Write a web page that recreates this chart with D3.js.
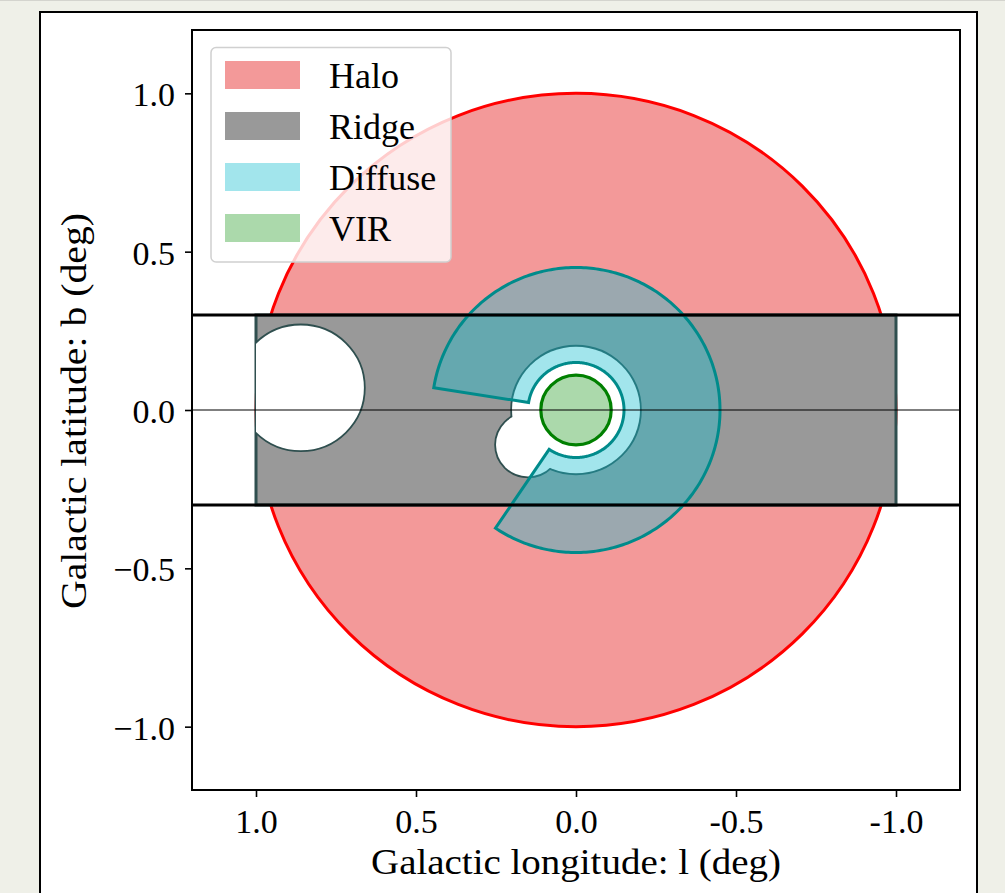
<!DOCTYPE html>
<html>
<head>
<meta charset="utf-8">
<script src="https://cdn.jsdelivr.net/npm/d3@7"></script>
<style>
  body { margin: 0; background: #eff0e8; }
  svg { display: block; }
  .tick text { font-family: "Liberation Serif", serif; font-size: 34px; fill: #000; }
</style>
</head>
<body>
<div id="chart"></div>
<script>
// regions on the sky: [l, b, radius] in degrees
var haloCircle = [0, 0, 1.0];
var ridgeBox = [-1.0, 1.0, -0.3, 0.3];          // l min, l max, b min, b max
var ridgeHoleFar = [0.86, 0.07, 0.2];
var ridgeHolesCenter = [[0, 0, 0.2], [0.15, -0.11, 0.1]];
var diffuseRadii = [0.15, 0.45];                // inner, outer
var diffuseAngles = [9, 304];                   // start, end (deg)
var virCircle = [0, 0, 0.11];
var bandLines = [-0.3, 0.3];

var legendNames = ["Halo", "Ridge", "Diffuse", "VIR"];
var xTicks = [1.0, 0.5, 0.0, -0.5, -1.0];
var xTickLabels = ["1.0", "0.5", "0.0", "-0.5", "-1.0"];
var yTicks = [-1.0, -0.5, 0.0, 0.5, 1.0];
var yTickLabels = ["\u22121.0", "\u22120.5", "0.0", "0.5", "1.0"];

var colors = {
  Halo: "rgba(240,128,128,0.8)",
  Ridge: "#999999",
  Diffuse: "rgba(23,190,207,0.4)",
  VIR: "rgba(44,160,44,0.4)"
};

var W = 1005, H = 893;
var margin = { top: 30, right: 45, bottom: 103, left: 192 };
var width = 960 - margin.left, height = 790 - margin.top;

var svg = d3.select("#chart").append("svg")
  .attr("width", W).attr("height", H);

// figure frame
svg.append("line").attr("x1", 0).attr("x2", W).attr("y1", 0.5).attr("y2", 0.5)
  .attr("stroke", "#d4d4ce");
svg.append("rect")
  .attr("x", 40).attr("y", 12).attr("width", 937).attr("height", 900)
  .attr("fill", "#fff").attr("stroke", "#000").attr("stroke-width", 2);

var g = svg.append("g")
  .attr("transform", "translate(" + margin.left + "," + margin.top + ")");

var x = d3.scaleLinear().domain([1.2, -1.2]).range([0, width]);
var y = d3.scaleLinear().domain([-1.2, 1.2]).range([height, 0]);

var line = d3.line().x(function(d) { return x(d[0]); }).y(function(d) { return y(d[1]); });

function ellipse(sel, c) {
  return sel.append("ellipse")
    .attr("cx", x(c[0])).attr("cy", y(c[1]))
    .attr("rx", Math.abs(x(c[2]) - x(0))).attr("ry", Math.abs(y(c[2]) - y(0)));
}

g.append("clipPath").attr("id", "plotclip")
  .append("rect").attr("width", width).attr("height", height);
g.append("clipPath").attr("id", "ridgeclip")
  .append("rect")
  .attr("x", x(ridgeBox[1])).attr("y", y(ridgeBox[3]))
  .attr("width", x(ridgeBox[0]) - x(ridgeBox[1]))
  .attr("height", y(ridgeBox[2]) - y(ridgeBox[3]));

var plot = g.append("g").attr("clip-path", "url(#plotclip)");

// Halo
ellipse(plot, haloCircle)
  .attr("fill", colors.Halo).attr("stroke", "red").attr("stroke-width", 3);

// Ridge
plot.append("rect")
  .attr("x", x(ridgeBox[1])).attr("y", y(ridgeBox[3]))
  .attr("width", x(ridgeBox[0]) - x(ridgeBox[1]))
  .attr("height", y(ridgeBox[2]) - y(ridgeBox[3]))
  .attr("fill", colors.Ridge).attr("stroke", "darkslategray").attr("stroke-width", 3);

ellipse(plot.append("g").attr("clip-path", "url(#ridgeclip)"), ridgeHoleFar)
  .attr("fill", "#fff").attr("stroke", "darkslategray").attr("stroke-width", 1.8);

// central hole: outline of the union, then white fill
ridgeHolesCenter.forEach(function(c) {
  ellipse(plot, c).attr("fill", "none").attr("stroke", "darkslategray").attr("stroke-width", 3.6);
});
ridgeHolesCenter.forEach(function(c) {
  ellipse(plot, c).attr("fill", "#fff");
});

// Diffuse sector
var a0 = diffuseAngles[0], a1 = diffuseAngles[1];
var outer = d3.range(a0, a1 + 0.5, 1).map(function(a) {
  var t = a * Math.PI / 180;
  return [diffuseRadii[1] * Math.cos(t), diffuseRadii[1] * Math.sin(t)];
});
var inner = d3.range(a1, a0 - 0.5, -1).map(function(a) {
  var t = a * Math.PI / 180;
  return [diffuseRadii[0] * Math.cos(t), diffuseRadii[0] * Math.sin(t)];
});
plot.append("path")
  .attr("d", line(outer.concat(inner)) + "Z")
  .attr("fill", colors.Diffuse).attr("stroke", "darkcyan").attr("stroke-width", 3)
  .attr("stroke-linejoin", "miter");

// VIR
ellipse(plot, virCircle)
  .attr("fill", colors.VIR).attr("stroke", "green").attr("stroke-width", 3.2);

// reference lines
plot.append("line")
  .attr("x1", 0).attr("x2", width).attr("y1", y(0)).attr("y2", y(0))
  .attr("stroke", "#000").attr("stroke-width", 1.1);
plot.selectAll(".band").data(bandLines).enter().append("line")
  .attr("x1", 0).attr("x2", width)
  .attr("y1", function(d) { return y(d); }).attr("y2", function(d) { return y(d); })
  .attr("stroke", "#000").attr("stroke-width", 3);

// axes
var xAxis = g.append("g")
  .attr("transform", "translate(0," + height + ")")
  .call(d3.axisBottom(x).tickValues(xTicks)
    .tickFormat(function(d, i) { return xTickLabels[i]; })
    .tickSize(7).tickPadding(12));
var yAxis = g.append("g")
  .call(d3.axisLeft(y).tickValues(yTicks)
    .tickFormat(function(d, i) { return yTickLabels[i]; })
    .tickSize(7).tickPadding(10));
[xAxis, yAxis].forEach(function(a) {
  a.select(".domain").remove();
  a.selectAll(".tick line").attr("stroke", "#000").attr("stroke-width", 1.6);
});
yAxis.selectAll(".tick text").attr("dy", "0.37em");

g.append("rect").attr("width", width).attr("height", height)
  .attr("fill", "none").attr("stroke", "#000").attr("stroke-width", 2);

// axis labels
svg.append("text")
  .attr("x", 576).attr("y", 874)
  .attr("text-anchor", "middle")
  .attr("textLength", 410).attr("lengthAdjust", "spacingAndGlyphs")
  .style("font-family", "'Liberation Serif', serif").style("font-size", "35px")
  .text("Galactic longitude: l (deg)");
svg.append("text")
  .attr("transform", "translate(86,411) rotate(-90)")
  .attr("text-anchor", "middle")
  .attr("textLength", 396).attr("lengthAdjust", "spacingAndGlyphs")
  .style("font-family", "'Liberation Serif', serif").style("font-size", "35px")
  .text("Galactic latitude: b (deg)");

// legend
var legend = svg.append("g");
legend.append("rect")
  .attr("x", 211).attr("y", 47.5).attr("width", 240).attr("height", 214.5)
  .attr("rx", 5)
  .attr("fill", "rgba(255,255,255,0.8)").attr("stroke", "#d0d0d0").attr("stroke-width", 1.5);
legendNames.forEach(function(name, i) {
  var yy = 61 + i * 51;
  legend.append("rect")
    .attr("x", 225).attr("y", yy).attr("width", 75).attr("height", 28)
    .attr("fill", colors[name]);
  legend.append("text")
    .attr("x", 329).attr("y", yy + 27)
    .style("font-family", "'Liberation Serif', serif").style("font-size", "36px")
    .text(name);
});
</script>
</body>
</html>
